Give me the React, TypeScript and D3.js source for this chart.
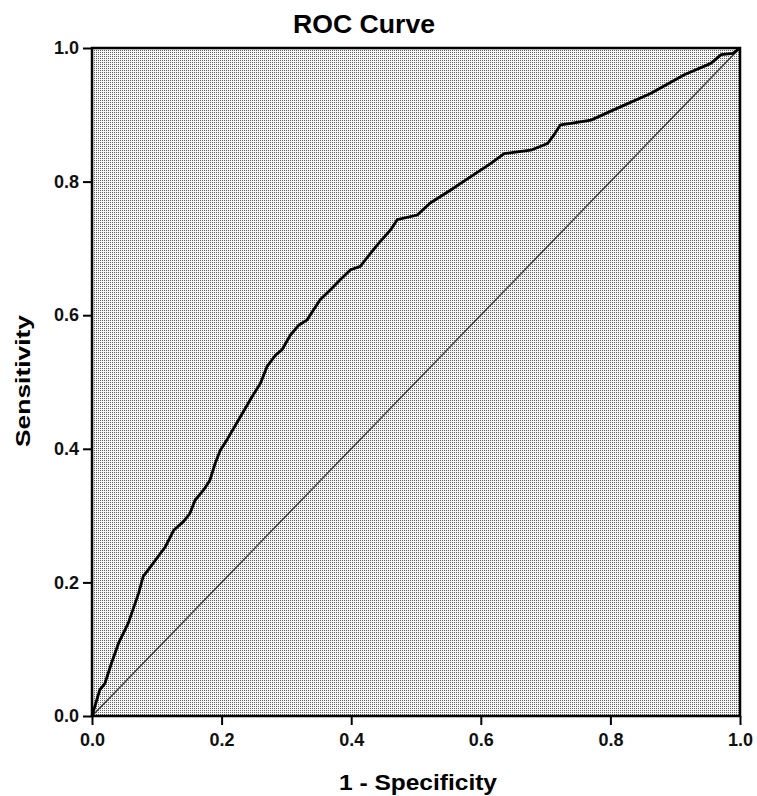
import React, { useEffect, useRef } from 'react';
import * as d3 from 'd3';

// ROC curve points (1 - specificity, sensitivity)
const fpr = [
  0, 0.012, 0.02, 0.03, 0.041, 0.056, 0.072, 0.079, 0.087, 0.113, 0.126, 0.141,
  0.151, 0.159, 0.172, 0.182, 0.19, 0.198, 0.208, 0.229, 0.247, 0.26, 0.27,
  0.283, 0.293, 0.306, 0.319, 0.332, 0.342, 0.352, 0.368, 0.383, 0.399, 0.414,
  0.422, 0.44, 0.461, 0.471, 0.502, 0.522, 0.553, 0.584, 0.615, 0.636, 0.677,
  0.703, 0.713, 0.723, 0.739, 0.77, 0.811, 0.862, 0.914, 0.955, 0.971, 0.989, 1,
];
const tpr = [
  0, 0.039, 0.049, 0.079, 0.109, 0.139, 0.184, 0.209, 0.219, 0.253, 0.278, 0.291,
  0.303, 0.323, 0.338, 0.353, 0.378, 0.398, 0.413, 0.448, 0.478, 0.498, 0.523,
  0.54, 0.548, 0.57, 0.585, 0.593, 0.608, 0.623, 0.638, 0.653, 0.668, 0.673,
  0.683, 0.705, 0.728, 0.743, 0.75, 0.768, 0.787, 0.807, 0.827, 0.842, 0.847,
  0.857, 0.87, 0.885, 0.887, 0.892, 0.91, 0.932, 0.96, 0.977, 0.99, 0.992, 1,
];
const tickValues = [0, 0.2, 0.4, 0.6, 0.8, 1.0];
const diagonal = [0, 1];

const width = 757;
const height = 796;
const font = "Arial, 'Liberation Sans', sans-serif";

const RocChart = () => {
  const svgRef = useRef<SVGSVGElement>(null);

  useEffect(() => {
    document.body.style.margin = '0';
    document.body.style.overflow = 'hidden';

    const svg = d3.select(svgRef.current);
    svg.selectAll('*').remove();

    const left = 92, right = 740, top = 48, bottom = 716;

    const x = d3.scaleLinear().domain([0, 1]).range([left, right]);
    const y = d3.scaleLinear().domain([0, 1]).range([bottom, top]);

    // stippled gray background
    const defs = svg.append('defs');
    const pat = defs.append('pattern')
      .attr('id', 'stipple')
      .attr('width', 2).attr('height', 2)
      .attr('patternUnits', 'userSpaceOnUse');
    pat.append('rect').attr('width', 2).attr('height', 2).attr('fill', '#f6f6f6');
    pat.append('rect').attr('width', 1).attr('height', 1).attr('fill', '#606060');

    svg.append('rect')
      .attr('x', left).attr('y', top)
      .attr('width', right - left).attr('height', bottom - top)
      .attr('fill', 'url(#stipple)');

    // reference diagonal
    svg.append('line')
      .attr('x1', x(diagonal[0])).attr('y1', y(diagonal[0]))
      .attr('x2', x(diagonal[1])).attr('y2', y(diagonal[1]))
      .attr('stroke', '#3a3a3a')
      .attr('stroke-width', 1.4);

    // ROC curve
    const pts: [number, number][] = fpr.map((f, i) => [f, tpr[i]]);
    const line = d3.line<[number, number]>()
      .x(d => x(d[0]))
      .y(d => y(d[1]));
    svg.append('path')
      .datum(pts)
      .attr('d', line)
      .attr('fill', 'none')
      .attr('stroke', '#000')
      .attr('stroke-width', 2.8)
      .attr('stroke-linejoin', 'round');

    // frame
    svg.append('rect')
      .attr('x', left).attr('y', top)
      .attr('width', right - left).attr('height', bottom - top)
      .attr('fill', 'none')
      .attr('stroke', '#000')
      .attr('stroke-width', 2.5);

    // x axis
    const xAxis = svg.append('g')
      .attr('transform', `translate(0,${bottom})`)
      .call(d3.axisBottom(x).tickValues(tickValues).tickFormat(d3.format('.1f')).tickSize(9).tickPadding(8));
    xAxis.select('.domain').remove();
    xAxis.selectAll('line').attr('stroke', '#000').attr('stroke-width', 2);
    xAxis.selectAll('text')
      .attr('font-family', font).attr('font-size', 18).attr('font-weight', 'bold').attr('fill', '#111');

    // y axis
    const yAxis = svg.append('g')
      .attr('transform', `translate(${left},0)`)
      .call(d3.axisLeft(y).tickValues(tickValues).tickFormat(d3.format('.1f')).tickSize(9).tickPadding(4));
    yAxis.select('.domain').remove();
    yAxis.selectAll('line').attr('stroke', '#000').attr('stroke-width', 2);
    yAxis.selectAll('text')
      .attr('font-family', font).attr('font-size', 18).attr('font-weight', 'bold').attr('fill', '#111');

    // title
    svg.append('text')
      .attr('x', 364).attr('y', 33)
      .attr('text-anchor', 'middle')
      .attr('font-family', font).attr('font-size', 25).attr('font-weight', 'bold')
      .attr('textLength', 142).attr('lengthAdjust', 'spacingAndGlyphs')
      .text('ROC Curve');

    // x label
    svg.append('text')
      .attr('x', 418).attr('y', 790)
      .attr('text-anchor', 'middle')
      .attr('font-family', font).attr('font-size', 22).attr('font-weight', 'bold')
      .attr('textLength', 158).attr('lengthAdjust', 'spacingAndGlyphs')
      .text('1 - Specificity');

    // y label
    svg.append('text')
      .attr('transform', `translate(30,381) rotate(-90)`)
      .attr('text-anchor', 'middle')
      .attr('font-family', font).attr('font-size', 20).attr('font-weight', 'bold')
      .attr('textLength', 132).attr('lengthAdjust', 'spacingAndGlyphs')
      .text('Sensitivity');
  }, []);

  return (
    <svg
      ref={svgRef}
      width={width}
      height={height}
      style={{ display: 'block', position: 'fixed', left: 0, top: 0, background: '#fff' }}
    ></svg>
  );
};

export default function App() {
  return <RocChart />;
}
